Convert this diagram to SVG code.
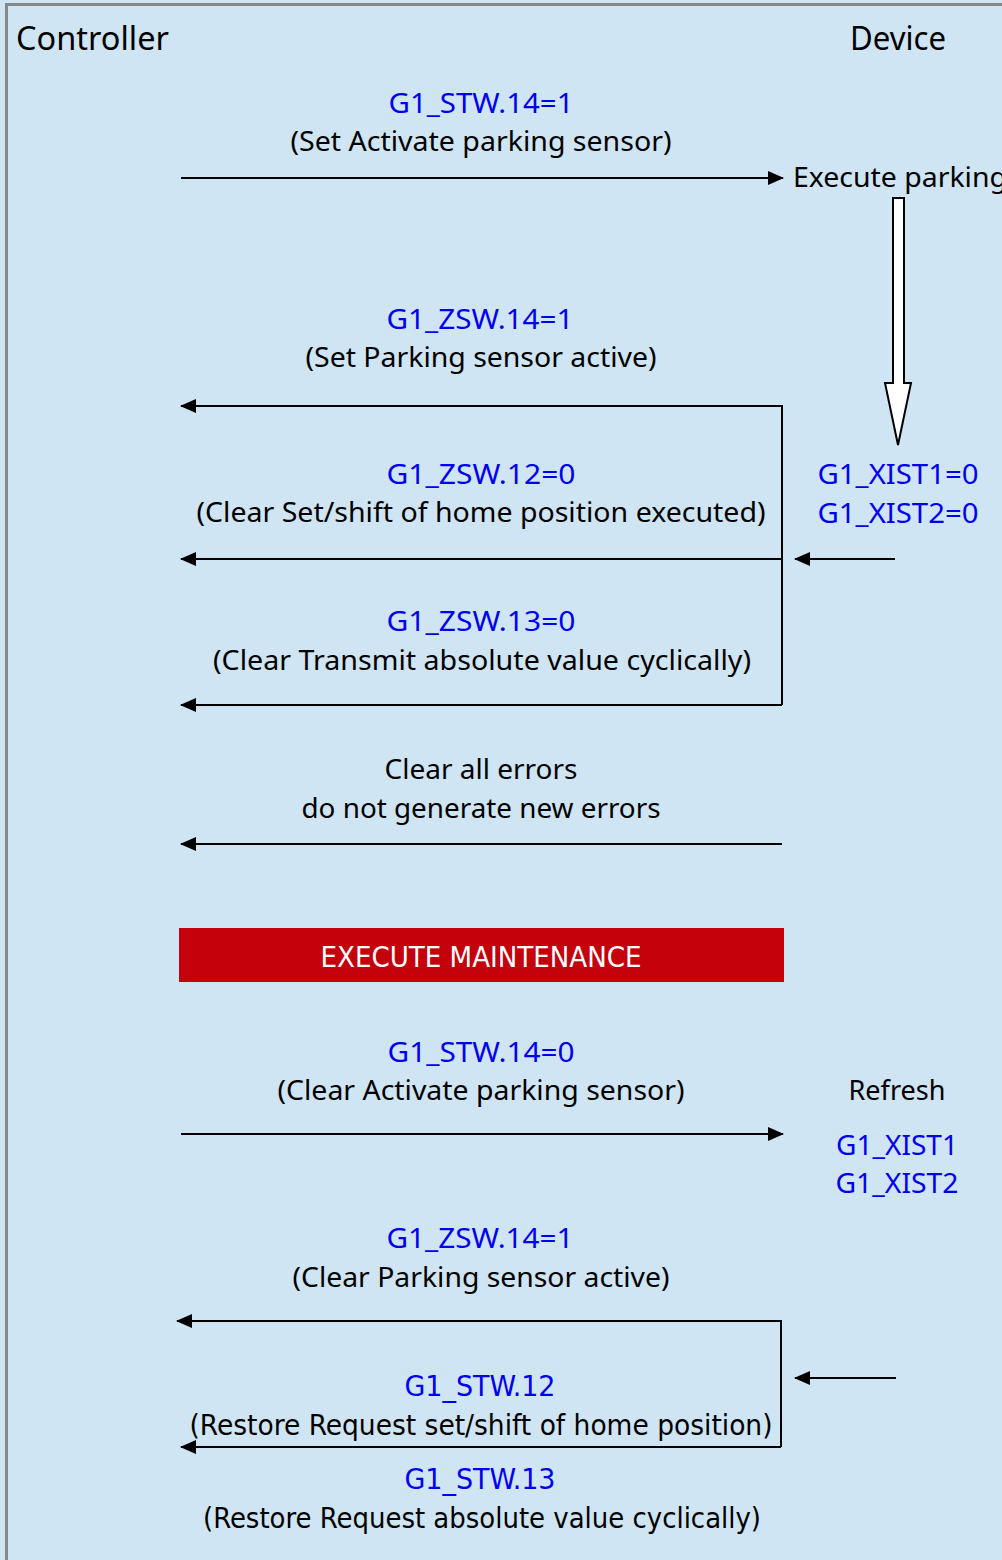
<svg xmlns="http://www.w3.org/2000/svg" width="1002" height="1560" viewBox="0 0 1002 1560">
<style>
.t{font-family:"Noto Sans","Open Sans",sans-serif;font-size:28px;fill:#000;text-anchor:middle}
.b{fill:#0000ee}
.h{font-size:32px}
.n{font-family:"Liberation Sans Narrow","DejaVu Sans Condensed","Noto Sans",sans-serif}
.w{fill:#fff;font-size:28px}
.ln{stroke:#000;stroke-width:2;fill:none}
</style>
<defs>
<marker id="ah" viewBox="0 0 16 14" refX="15" refY="7" markerWidth="16" markerHeight="14" markerUnits="userSpaceOnUse" orient="auto">
<path d="M0,0 L16,7 L0,14 Z" fill="#000"/>
</marker>
</defs>
<rect x="0" y="0" width="1002" height="1560" fill="#cfe5f3"/>
<path d="M6.5,1560 V4.5 H1002" stroke="#888" stroke-width="3" fill="none"/>

<g id="controller"><text class="t h" x="16" y="50" style="text-anchor:start" textLength="153" lengthAdjust="spacingAndGlyphs">Controller</text></g>
<g id="device"><text class="t h" x="898" y="50" textLength="96" lengthAdjust="spacingAndGlyphs">Device</text></g>

<g id="msg1">
<text class="t b" x="481" y="113" textLength="185" lengthAdjust="spacingAndGlyphs">G1_STW.14=1</text>
<text class="t" x="481" y="151" textLength="381" lengthAdjust="spacingAndGlyphs">(Set Activate parking sensor)</text>
</g>
<g id="execute-parking"><text class="t" x="793" y="187" style="text-anchor:start" textLength="214" lengthAdjust="spacingAndGlyphs">Execute parking</text></g>
<g id="hollow-arrow"><path d="M893,198 H904 V383 H911 L898,445 L885,383 H893 Z" fill="#fff" stroke="#000" stroke-width="2"/></g>

<g id="msg2">
<text class="t b" x="480" y="329" textLength="187" lengthAdjust="spacingAndGlyphs">G1_ZSW.14=1</text>
<text class="t" x="481" y="367" textLength="351" lengthAdjust="spacingAndGlyphs">(Set Parking sensor active)</text>
</g>
<g id="msg3">
<text class="t b" x="481" y="484" textLength="189" lengthAdjust="spacingAndGlyphs">G1_ZSW.12=0</text>
<text class="t" x="481" y="522" textLength="569" lengthAdjust="spacingAndGlyphs">(Clear Set/shift of home position executed)</text>
</g>
<g id="xist-zero">
<text class="t b" x="898" y="484" textLength="161" lengthAdjust="spacingAndGlyphs">G1_XIST1=0</text>
<text class="t b" x="898" y="523" textLength="161" lengthAdjust="spacingAndGlyphs">G1_XIST2=0</text>
</g>
<g id="msg4">
<text class="t b" x="481" y="631" textLength="189" lengthAdjust="spacingAndGlyphs">G1_ZSW.13=0</text>
<text class="t" x="482" y="670" textLength="538" lengthAdjust="spacingAndGlyphs">(Clear Transmit absolute value cyclically)</text>
</g>
<g id="msg5">
<text class="t" x="481" y="779" textLength="193" lengthAdjust="spacingAndGlyphs">Clear all errors</text>
<text class="t" x="481" y="818" textLength="359" lengthAdjust="spacingAndGlyphs">do not generate new errors</text>
</g>
<g id="maintenance">
<rect x="179" y="928" width="605" height="54" fill="#c4000b"/>
<text class="t n w" x="481" y="967" textLength="321" lengthAdjust="spacingAndGlyphs">EXECUTE MAINTENANCE</text>
</g>
<g id="msg6">
<text class="t b" x="481" y="1062" textLength="187" lengthAdjust="spacingAndGlyphs">G1_STW.14=0</text>
<text class="t" x="481" y="1100" textLength="407" lengthAdjust="spacingAndGlyphs">(Clear Activate parking sensor)</text>
</g>
<g id="refresh">
<text class="t" x="897" y="1100" textLength="97" lengthAdjust="spacingAndGlyphs">Refresh</text>
<text class="t b" x="897" y="1155" textLength="122" lengthAdjust="spacingAndGlyphs">G1_XIST1</text>
<text class="t b" x="897" y="1193" textLength="123" lengthAdjust="spacingAndGlyphs">G1_XIST2</text>
</g>
<g id="msg7">
<text class="t b" x="480" y="1248" textLength="187" lengthAdjust="spacingAndGlyphs">G1_ZSW.14=1</text>
<text class="t" x="481" y="1287" textLength="377" lengthAdjust="spacingAndGlyphs">(Clear Parking sensor active)</text>
</g>
<g id="msg8">
<text class="t n b" x="480" y="1396" textLength="151" lengthAdjust="spacingAndGlyphs">G1_STW.12</text>
<text class="t n" x="481" y="1435" textLength="583" lengthAdjust="spacingAndGlyphs">(Restore Request set/shift of home position)</text>
</g>
<g id="msg9">
<text class="t n b" x="480" y="1489" textLength="151" lengthAdjust="spacingAndGlyphs">G1_STW.13</text>
<text class="t n" x="482" y="1528" textLength="558" lengthAdjust="spacingAndGlyphs">(Restore Request absolute value cyclically)</text>
</g>

<g id="connectors">
<line class="ln" x1="181" y1="178" x2="783" y2="178" marker-end="url(#ah)"/>
<path class="ln" d="M782,705 V406 H181" marker-end="url(#ah)"/>
<line class="ln" x1="782" y1="559" x2="181" y2="559" marker-end="url(#ah)"/>
<line class="ln" x1="782" y1="705" x2="181" y2="705" marker-end="url(#ah)"/>
<line class="ln" x1="895" y1="559" x2="795" y2="559" marker-end="url(#ah)"/>
<line class="ln" x1="782" y1="844" x2="181" y2="844" marker-end="url(#ah)"/>
<line class="ln" x1="181" y1="1134" x2="783" y2="1134" marker-end="url(#ah)"/>
<path class="ln" d="M781,1447 V1321 H177" marker-end="url(#ah)"/>
<line class="ln" x1="781" y1="1447" x2="181" y2="1447" marker-end="url(#ah)"/>
<line class="ln" x1="896" y1="1378" x2="795" y2="1378" marker-end="url(#ah)"/>
</g>
</svg>
